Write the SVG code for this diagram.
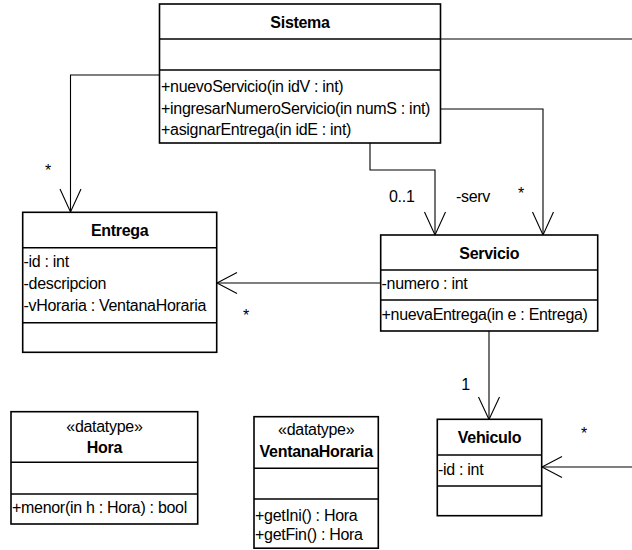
<svg xmlns="http://www.w3.org/2000/svg" width="632" height="550" viewBox="0 0 632 550">
<style>
.box{fill:#fff;stroke:#000;stroke-width:1.6}
.sep{stroke:#000;stroke-width:1.6}
.ln{fill:none;stroke:#000;stroke-width:1.1}
.ah{fill:none;stroke:#000;stroke-width:1.1}
text{font-family:"Liberation Sans",Arial,sans-serif;font-size:16px;fill:#000;letter-spacing:-0.3px}
.t{font-weight:bold;text-anchor:middle}
.st{text-anchor:middle}
.lb{font-size:16px}
</style>
<rect width="632" height="550" fill="#fff"/>
<g id="connectors">
<path class="ln" d="M159.5,75 H70.5 V212"/>
<path class="ah" d="M60,189 L70.5,212 L81,189"/>
<path class="ln" d="M370,143 V170 H435 V235"/>
<path class="ah" d="M424.5,212 L435,235 L445.5,212"/>
<path class="ln" d="M440.5,109 H543 V235"/>
<path class="ah" d="M532.5,212 L543,235 L553.5,212"/>
<path class="ln" d="M440.5,39 H632"/>
<path class="ln" d="M380.7,283 H217"/>
<path class="ah" d="M237,272.5 L217,283 L237,293.5"/>
<path class="ln" d="M489,331 V419"/>
<path class="ah" d="M478.5,397 L489,419.5 L499.5,397"/>
<path class="ln" d="M632,467 H542"/>
<path class="ah" d="M562,456.5 L542,467 L562,477.5"/>
<text x="48" y="176" class="st">*</text>
<text x="389" y="202">0..1</text>
<text x="456" y="202">-serv</text>
<text x="521" y="199" class="st">*</text>
<text x="246" y="321" class="st">*</text>
<text x="465.5" y="390" class="st">1</text>
<text x="584" y="438.5" class="st">*</text>
</g>
<g id="Sistema">
<rect class="box" x="159.5" y="4" width="281" height="139"/>
<line class="sep" x1="159.5" y1="39" x2="440.5" y2="39"/>
<line class="sep" x1="159.5" y1="70" x2="440.5" y2="70"/>
<text x="300" y="28" class="t">Sistema</text>
<text x="161" y="92">+nuevoServicio(in idV : int)</text>
<text x="161" y="113.5">+ingresarNumeroServicio(in numS : int)</text>
<text x="161" y="135">+asignarEntrega(in idE : int)</text>
</g>
<g id="Entrega">
<rect class="box" x="22.7" y="212.3" width="194" height="140"/>
<line class="sep" x1="22.7" y1="247.7" x2="216.7" y2="247.7"/>
<line class="sep" x1="22.7" y1="322.7" x2="216.7" y2="322.7"/>
<text x="119.7" y="236" class="t">Entrega</text>
<text x="23.5" y="267">-id : int</text>
<text x="23.5" y="289">-descripcion</text>
<text x="23.5" y="311">-vHoraria : VentanaHoraria</text>
</g>
<g id="Servicio">
<rect class="box" x="380.7" y="235" width="217" height="96"/>
<line class="sep" x1="380.7" y1="270" x2="597.7" y2="270"/>
<line class="sep" x1="380.7" y1="300" x2="597.7" y2="300"/>
<text x="489.2" y="258.5" class="t">Servicio</text>
<text x="381.5" y="289">-numero : int</text>
<text x="381.5" y="320">+nuevaEntrega(in e : Entrega)</text>
</g>
<g id="Vehiculo">
<rect class="box" x="437.3" y="419.3" width="104.4" height="96.4"/>
<line class="sep" x1="437.3" y1="455" x2="541.7" y2="455"/>
<line class="sep" x1="437.3" y1="486" x2="541.7" y2="486"/>
<text x="489.5" y="443" class="t">Vehiculo</text>
<text x="438" y="475">-id : int</text>
</g>
<g id="Hora">
<rect class="box" x="11" y="411.7" width="186.7" height="112.3"/>
<line class="sep" x1="11" y1="462.3" x2="197.7" y2="462.3"/>
<line class="sep" x1="11" y1="494" x2="197.7" y2="494"/>
<text x="104.4" y="431.7" class="st">«datatype»</text>
<text x="104.4" y="453" class="t">Hora</text>
<text x="12" y="512.7">+menor(in h : Hora) : bool</text>
</g>
<g id="VentanaHoraria">
<rect class="box" x="254" y="416.7" width="124.3" height="131.5"/>
<line class="sep" x1="254" y1="468.3" x2="378.3" y2="468.3"/>
<line class="sep" x1="254" y1="499" x2="378.3" y2="499"/>
<text x="316.2" y="435" class="st">«datatype»</text>
<text x="316.2" y="457" class="t">VentanaHoraria</text>
<text x="255" y="520.7">+getIni() : Hora</text>
<text x="255" y="540">+getFin() : Hora</text>
</g>
</svg>
